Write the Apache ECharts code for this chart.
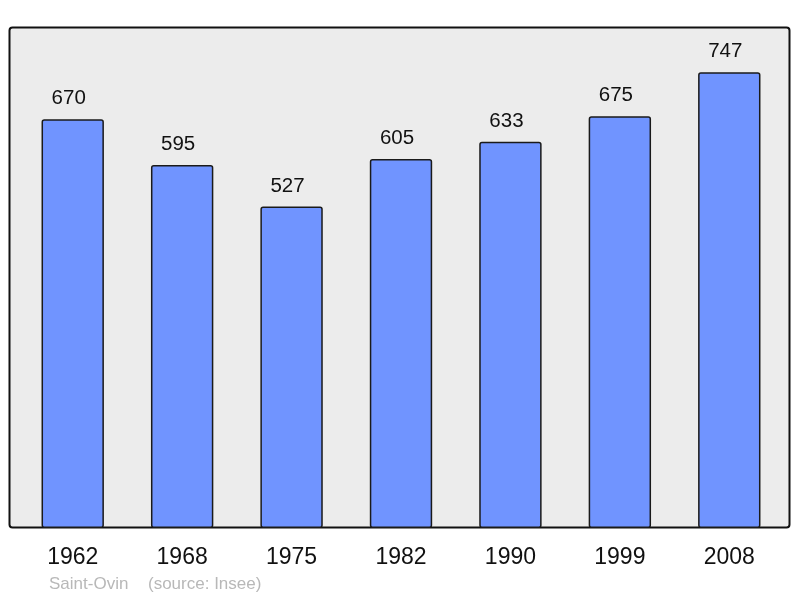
<!DOCTYPE html>
<html>
<head>
<meta charset="utf-8">
<script src="https://cdn.jsdelivr.net/npm/echarts@6/dist/echarts.min.js"></script>
<style>
  html, body { margin: 0; padding: 0; background: #fff; }
  #chart { width: 800px; height: 598px; }
</style>
</head>
<body>
<div id="chart"></div>
<script>
// 数据
const years = ['1962', '1968', '1975', '1982', '1990', '1999', '2008'];
const population = [670, 595, 527, 605, 633, 675, 747];
const placeName = 'Saint-Ovin';
const sourceText = '(source: Insee)';

const chart = echarts.init(document.getElementById('chart'), null, { renderer: 'canvas' });

const option = {
  animation: false,
  textStyle: { fontFamily: 'Liberation Sans, Arial, sans-serif' },
  graphic: [
    {
      type: 'rect',
      z: -10,
      shape: { x: 9.5, y: 27.5, width: 780, height: 500, r: 3 },
      style: { fill: '#ececec', stroke: '#111', lineWidth: 2 }
    },
    {
      type: 'text',
      left: 49,
      top: 576,
      style: { text: placeName, fill: '#b8b8b8', fontSize: 17, fontFamily: 'Liberation Sans, Arial, sans-serif' }
    },
    {
      type: 'text',
      left: 148,
      top: 576,
      style: { text: sourceText, fill: '#b8b8b8', fontSize: 17, fontFamily: 'Liberation Sans, Arial, sans-serif' }
    }
  ],
  grid: {
    left: 18,
    right: 16,
    top: 40,
    bottom: 70,
    containLabel: false
  },
  xAxis: {
    type: 'category',
    data: years,
    axisLine: { show: false },
    axisTick: { show: false },
    axisLabel: {
      color: '#111',
      fontSize: 23,
      margin: 18
    }
  },
  yAxis: {
    type: 'value',
    min: 0,
    max: 800,
    show: false,
    splitLine: { show: false }
  },
  series: [
    {
      type: 'bar',
      data: population,
      barWidth: '57%',
      itemStyle: {
        color: '#7094ff',
        borderColor: '#1a1a1a',
        borderWidth: 1.5,
        borderRadius: 2
      },
      label: {
        show: true,
        position: 'top',
        distance: 10,
        offset: [-4, 0],
        color: '#111',
        fontSize: 20.5
      }
    }
  ]
};

chart.setOption(option);
</script>
</body>
</html>
